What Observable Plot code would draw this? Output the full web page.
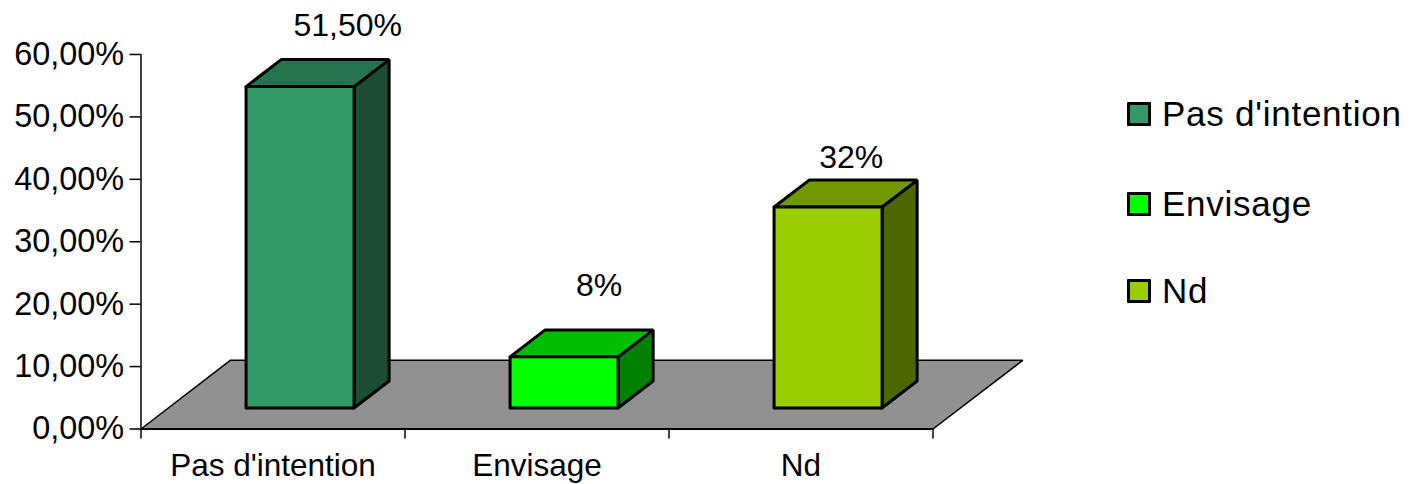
<!DOCTYPE html>
<html><head><meta charset="utf-8">
<script src="https://cdn.jsdelivr.net/npm/d3@7"></script>
<script src="https://cdn.jsdelivr.net/npm/@observablehq/plot@0.6"></script>
<style>
html,body{margin:0;padding:0;background:#fff;}
#wrap{position:relative;width:1410px;height:484px;overflow:hidden;font-family:"Liberation Sans",Arial,sans-serif;}
#legend{position:absolute;left:0;top:0;}
.li{position:absolute;left:1127px;display:flex;align-items:center;height:40px;font-size:35px;color:#000;white-space:nowrap;letter-spacing:0.75px;}
.sw{width:18px;height:18px;border:3px solid #000;margin-right:11px;flex:none;border-radius:1px;}
</style></head>
<body><div id="wrap"><div id="chart"></div><div id="legend"></div></div>
<script>
const categories = ["Pas d'intention", "Envisage", "Nd"];
const values = [51.5, 8.2, 32.2];
const valueLabels = ["51,50%", "8%", "32%"];
const labelX = [0.783, 1.735, 2.69];
const labelY = [64.6, 22.9, 43.5];
const frontColors = ["#339966", "#00ff00", "#9bce00"];
const topColors = ["#267350", "#00bf00", "#739900"];
const sideColors = ["#1c4c33", "#008000", "#4d6600"];
const yTicks = [0, 10, 20, 30, 40, 50, 60];
const barStart = 0.398, barWidth = 0.409;
const barBase = 3.36, depthX = 0.133, depthY = 4.32;
const floorDepthLeft = 0.338, floorDepthRight = 0.34, floorDepthY = 11;

function poly(id, fill, pts) {
  return [...pts, pts[0]].map(([x, y]) => ({id, fill, x, y}));
}
const floor = poly("floor", "#919191", [[0, 0], [floorDepthLeft, floorDepthY], [3 + floorDepthRight, floorDepthY], [3, 0]]);
const faces = categories.flatMap((c, i) => {
  const x0 = i + barStart, x1 = x0 + barWidth, y0 = barBase, y1 = barBase + values[i];
  return [
    ...poly(c + "-side", sideColors[i], [[x1, y0], [x1 + depthX, y0 + depthY], [x1 + depthX, y1 + depthY], [x1, y1]]),
    ...poly(c + "-top", topColors[i], [[x0, y1], [x0 + depthX, y1 + depthY], [x1 + depthX, y1 + depthY], [x1, y1]]),
    ...poly(c + "-front", frontColors[i], [[x0, y0], [x1, y0], [x1, y1], [x0, y1]])
  ];
});
const labels = valueLabels.map((t, i) => ({t, x: labelX[i], y: labelY[i]}));
const lineOpts = {x: "x", y: "y", z: "id", fill: "fill", stroke: "#000", strokeLinejoin: "miter"};

const chart = Plot.plot({
  width: 1410, height: 484,
  marginLeft: 140.5, marginRight: 477.5, marginTop: 54, marginBottom: 55.5,
  style: {fontFamily: '"Liberation Sans", Arial, sans-serif', background: "#fff", color: "#000"},
  x: {domain: [0, 3]},
  y: {domain: [0, 60]},
  color: {type: "identity"},
  marks: [
    Plot.line(floor, {...lineOpts, strokeWidth: 1.5}),
    Plot.line(faces, {...lineOpts, strokeWidth: 3}),
    Plot.ruleX([0], {y1: 0, y2: 60, stroke: "#000", strokeWidth: 1.5}),
    Plot.ruleY([0], {x1: 0, x2: 3, stroke: "#000", strokeWidth: 2}),
    Plot.axisY({ticks: yTicks, tickSize: 11, tickPadding: 6, fontSize: 32.4, label: null, stroke: "#000", strokeWidth: 1.5, strokeOpacity: 1,
      tickFormat: d => d.toFixed(2).replace(".", ",") + "%"}),
    Plot.axisX({ticks: [0, 1, 2, 3], tickSize: 10, tickFormat: () => "", label: null, stroke: "#000", strokeWidth: 1.5, strokeOpacity: 1}),
    Plot.axisX({ticks: [0.5, 1.5, 2.5], tickSize: 0, tickPadding: 25, fontSize: 31.5, label: null,
      tickFormat: d => categories[Math.floor(d)]}),
    Plot.text(labels, {x: "x", y: "y", text: "t", fontSize: 32, fill: "#000"})
  ]
});
document.getElementById("chart").appendChild(chart);

const legendTops = [94, 184, 271];
const legend = document.getElementById("legend");
categories.forEach((c, i) => {
  const row = document.createElement("div");
  row.className = "li";
  row.style.top = legendTops[i] + "px";
  const sw = document.createElement("span");
  sw.className = "sw";
  sw.style.background = frontColors[i];
  const tx = document.createElement("span");
  tx.textContent = c;
  row.append(sw, tx);
  legend.appendChild(row);
});
</script></body></html>
